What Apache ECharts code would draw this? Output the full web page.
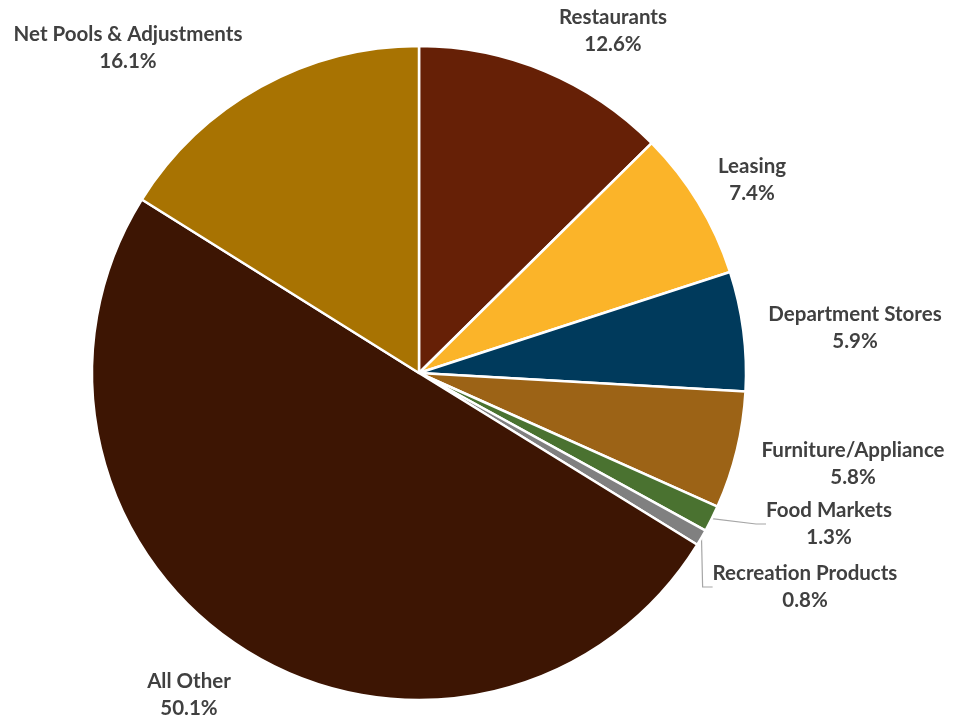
<!DOCTYPE html>
<html><head><meta charset="utf-8">
<script src="https://cdn.jsdelivr.net/npm/echarts@6/dist/echarts.min.js"></script>
<style>html,body{margin:0;padding:0;background:#fff}#c{width:956px;height:721px}</style>
</head><body><div id="c"></div>
<script>
const categories = ['Restaurants','Leasing','Department Stores','Furniture/Appliance','Food Markets','Recreation Products','All Other','Net Pools & Adjustments'];
const values = [12.6, 7.4, 5.9, 5.8, 1.3, 0.8, 50.1, 16.1];
const colors = ['#662006','#FBB429','#003A5C','#9C6316','#4A7230','#808080','#3D1503','#A87302'];
const labelPos = [[613,31],[752,180],[855,328],[853,464],[829,524],[805,587],[189,695],[128,48]];
const withLine = [false,false,false,false,true,true,false,false];

const chart = echarts.init(document.getElementById('c'));
chart.setOption({
  animation:false,
  series:[{
    type:'pie',
    center:[419,373],
    radius:327,
    startAngle:90,
    clockwise:true,
    avoidLabelOverlap:false,
    itemStyle:{borderColor:'#fff',borderWidth:2.5},
    label:{
      show:true, position:'outside',
      formatter:p=>p.name+'\n'+p.value.toFixed(1)+'%',
      fontFamily:'Lato', fontWeight:'bold', fontSize:20.5, color:'#404040',
      lineHeight:27, align:'center', verticalAlign:'middle'
    },
    labelLine:{show:true,length:10,length2:10,lineStyle:{color:'#a6a6a6',width:1.2}},
    labelLayout:function(p){
      const pos = labelPos[p.dataIndex];
      return {x:pos[0], y:pos[1], align:'center', verticalAlign:'middle'};
    },
    data: categories.map((c,i)=>({name:c,value:values[i],itemStyle:{color:colors[i]},labelLine:{show:withLine[i]}}))
  }]
});
</script></body></html>
